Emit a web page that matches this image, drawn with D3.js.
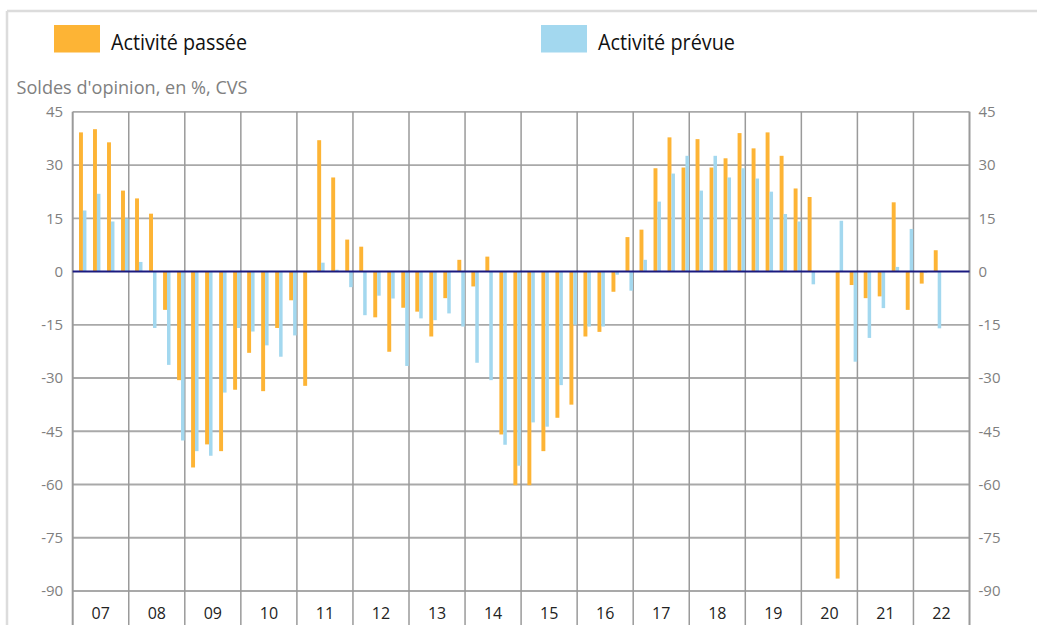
<!DOCTYPE html>
<html>
<head>
<meta charset="utf-8">
<script src="https://cdn.jsdelivr.net/npm/d3@7"></script>
<style>
  html, body { margin: 0; padding: 0; background: #fff; }
  svg { display: block; font-family: "Open Sans", "Noto Sans", sans-serif; }
</style>
</head>
<body>
<svg id="chart" width="1037" height="625"></svg>
<script>
// ---- Data ----
const years = ["07","08","09","10","11","12","13","14","15","16","17","18","19","20","21","22"];
const quarters = ["T1","T2","T3","T4"];
const seriesNames = ["Activité passée", "Activité prévue"];
const yTicks = [-90,-75,-60,-45,-30,-15,0,15,30,45];

const activitePassee = [
  39.2, 40.1, 36.4, 22.8,     // 2007
  20.6, 16.3, -10.8, -30.6,   // 2008
  -55.2, -48.7, -50.6, -33.3, // 2009
  -22.9, -33.7, -15.9, -8.1,  // 2010
  -32.2, 37.0, 26.5, 9.0,     // 2011
  7.0, -12.9, -22.6, -10.2,   // 2012
  -11.3, -18.3, -7.5, 3.3,    // 2013
  -4.2, 4.2, -45.9, -60.2,    // 2014
  -60.2, -50.6, -41.2, -37.5, // 2015
  -18.3, -17.0, -5.7, 9.7,    // 2016
  11.8, 29.1, 37.8, 29.3,     // 2017
  37.3, 29.3, 31.9, 39.0,     // 2018
  34.7, 39.2, 32.6, 23.4,     // 2019
  21.0, null, -86.5, -3.8,    // 2020
  -7.5, -7.0, 19.5, -10.8,    // 2021
  -3.4, 6.0, null, null       // 2022
];
const activitePrevue = [
  17.2, 21.9, 14.1, 14.9,     // 2007
  2.7, -15.9, -26.3, -47.6,   // 2008
  -50.6, -51.9, -34.1, -15.9, // 2009
  -16.9, -20.8, -24.0, -18.0, // 2010
  -0.3, 2.5, 0.5, -4.4,       // 2011
  -12.3, -6.8, -7.6, -26.6,   // 2012
  -13.2, -13.7, -11.8, -15.5, // 2013
  -25.7, -30.6, -48.8, -54.7, // 2014
  -42.5, -43.7, -32.0, -15.0, // 2015
  -15.5, -15.5, -0.9, -5.4,   // 2016
  3.3, 19.7, 27.6, 32.6,      // 2017
  22.8, 32.6, 26.5, 29.1,     // 2018
  26.2, 22.5, 16.2, 14.1,     // 2019
  -3.6, null, 14.3, -25.4,    // 2020
  -18.7, -10.3, 1.3, 12.0,    // 2021
  -0.3, -16.0, null, null     // 2022
];

// ---- Layout ----
const colors = { passee: "#fdb435", prevue: "#a3d8ef", grid: "#a9a9a9", vgrid: "#9a9a9a", zero: "#1a1a80", tick: "#7f7f7f", xlab: "#222" };
const plot = { left: 72.7, right: 969.5, top: 111.8, bottom: 591 };

const svg = d3.select("#chart");

// frame
svg.append("line").attr("x1", 7).attr("x2", 1037).attr("y1", 11).attr("y2", 11)
  .attr("stroke", "#dcdcdc").attr("stroke-width", 2.5);
svg.append("line").attr("x1", 7).attr("x2", 7).attr("y1", 11).attr("y2", 625)
  .attr("stroke", "#dcdcdc").attr("stroke-width", 2.5);

const keys = [];
years.forEach(y => quarters.forEach(q => keys.push(y + "-" + q)));

const x = d3.scaleBand().domain(keys).range([plot.left, plot.right]).padding(0);
const xYear = d3.scaleBand().domain(years).range([plot.left, plot.right]).padding(0);
const y = d3.scaleLinear().domain([-90, 45]).range([plot.bottom, plot.top]);
const bw = x.bandwidth();

// horizontal gridlines
svg.append("g").selectAll("line").data(yTicks.filter(t => t !== 0)).join("line")
  .attr("x1", plot.left).attr("x2", plot.right)
  .attr("y1", d => y(d)).attr("y2", d => y(d))
  .attr("stroke", colors.grid).attr("stroke-width", 1.8);

// vertical year lines (extend below the plot as ticks)
const vx = years.map(yr => xYear(yr)).concat([plot.right]);
svg.append("g").selectAll("line").data(vx).join("line")
  .attr("x1", d => d).attr("x2", d => d)
  .attr("y1", plot.top).attr("y2", 625)
  .attr("stroke", colors.vgrid).attr("stroke-width", (d, i) => (i === 0 || i === vx.length - 1) ? 2 : 1.5);

// bars
const data = keys.map((k, i) => ({ key: k, p: activitePassee[i], f: activitePrevue[i] }));

svg.append("g").selectAll("rect").data(data.filter(d => d.p !== null)).join("rect")
  .attr("x", d => x(d.key) + bw * 0.45)
  .attr("width", bw * 0.28)
  .attr("y", d => Math.min(y(d.p), y(0)))
  .attr("height", d => Math.abs(y(d.p) - y(0)))
  .attr("fill", colors.passee);

svg.append("g").selectAll("rect").data(data.filter(d => d.f !== null)).join("rect")
  .attr("x", d => x(d.key) + bw * 0.73)
  .attr("width", bw * 0.25)
  .attr("y", d => Math.min(y(d.f), y(0)))
  .attr("height", d => Math.abs(y(d.f) - y(0)))
  .attr("fill", colors.prevue);

// zero line
svg.append("line").attr("x1", plot.left).attr("x2", plot.right)
  .attr("y1", y(0)).attr("y2", y(0))
  .attr("stroke", colors.zero).attr("stroke-width", 2);

// y axes (left and right), hyphen-minus as in the reference
const fmt = d => String(d);
const yAxisL = d3.axisLeft(y).tickValues(yTicks).tickFormat(fmt).tickSize(0).tickPadding(9);
const gL = svg.append("g").attr("transform", `translate(${plot.left},0)`).call(yAxisL);
gL.select(".domain").remove();
gL.selectAll("text").attr("fill", colors.tick).style("font-size", "15px")
  .style("font-family", '"Open Sans", sans-serif').attr("x", -9.5);

const yAxisR = d3.axisRight(y).tickValues(yTicks).tickFormat(fmt).tickSize(0).tickPadding(9);
const gR = svg.append("g").attr("transform", `translate(${plot.right},0)`).call(yAxisR);
gR.select(".domain").remove();
gR.selectAll("text").attr("fill", colors.tick).style("font-size", "15px")
  .style("font-family", '"Open Sans", sans-serif');

// x axis labels
const xAxis = d3.axisBottom(xYear).tickSize(0).tickPadding(0);
const gX = svg.append("g").attr("transform", `translate(0,${plot.bottom})`).call(xAxis);
gX.select(".domain").remove();
gX.selectAll("text").attr("fill", colors.xlab).attr("dy", null).attr("y", 28)
  .style("font-size", "16px").style("font-family", '"Open Sans", sans-serif');

// axis unit label
svg.append("text").attr("x", 16.5).attr("y", 94.3)
  .attr("fill", "#808080").style("font-size", "17.5px")
  .attr("textLength", 231).attr("lengthAdjust", "spacingAndGlyphs")
  .text("Soldes d'opinion, en %, CVS");

// legend
const legend = [
  { name: seriesNames[0], color: colors.passee, sx: 54, tx: 111, tl: 136 },
  { name: seriesNames[1], color: colors.prevue, sx: 541, tx: 598, tl: 137 }
];
const lg = svg.append("g").selectAll("g").data(legend).join("g");
lg.append("rect").attr("x", d => d.sx).attr("y", 25).attr("width", 46).attr("height", 27.5)
  .attr("fill", d => d.color);
lg.append("text").attr("x", d => d.tx).attr("y", 50)
  .attr("fill", "#111").style("font-size", "21px")
  .attr("textLength", d => d.tl).attr("lengthAdjust", "spacingAndGlyphs")
  .text(d => d.name);
</script>
</body>
</html>
